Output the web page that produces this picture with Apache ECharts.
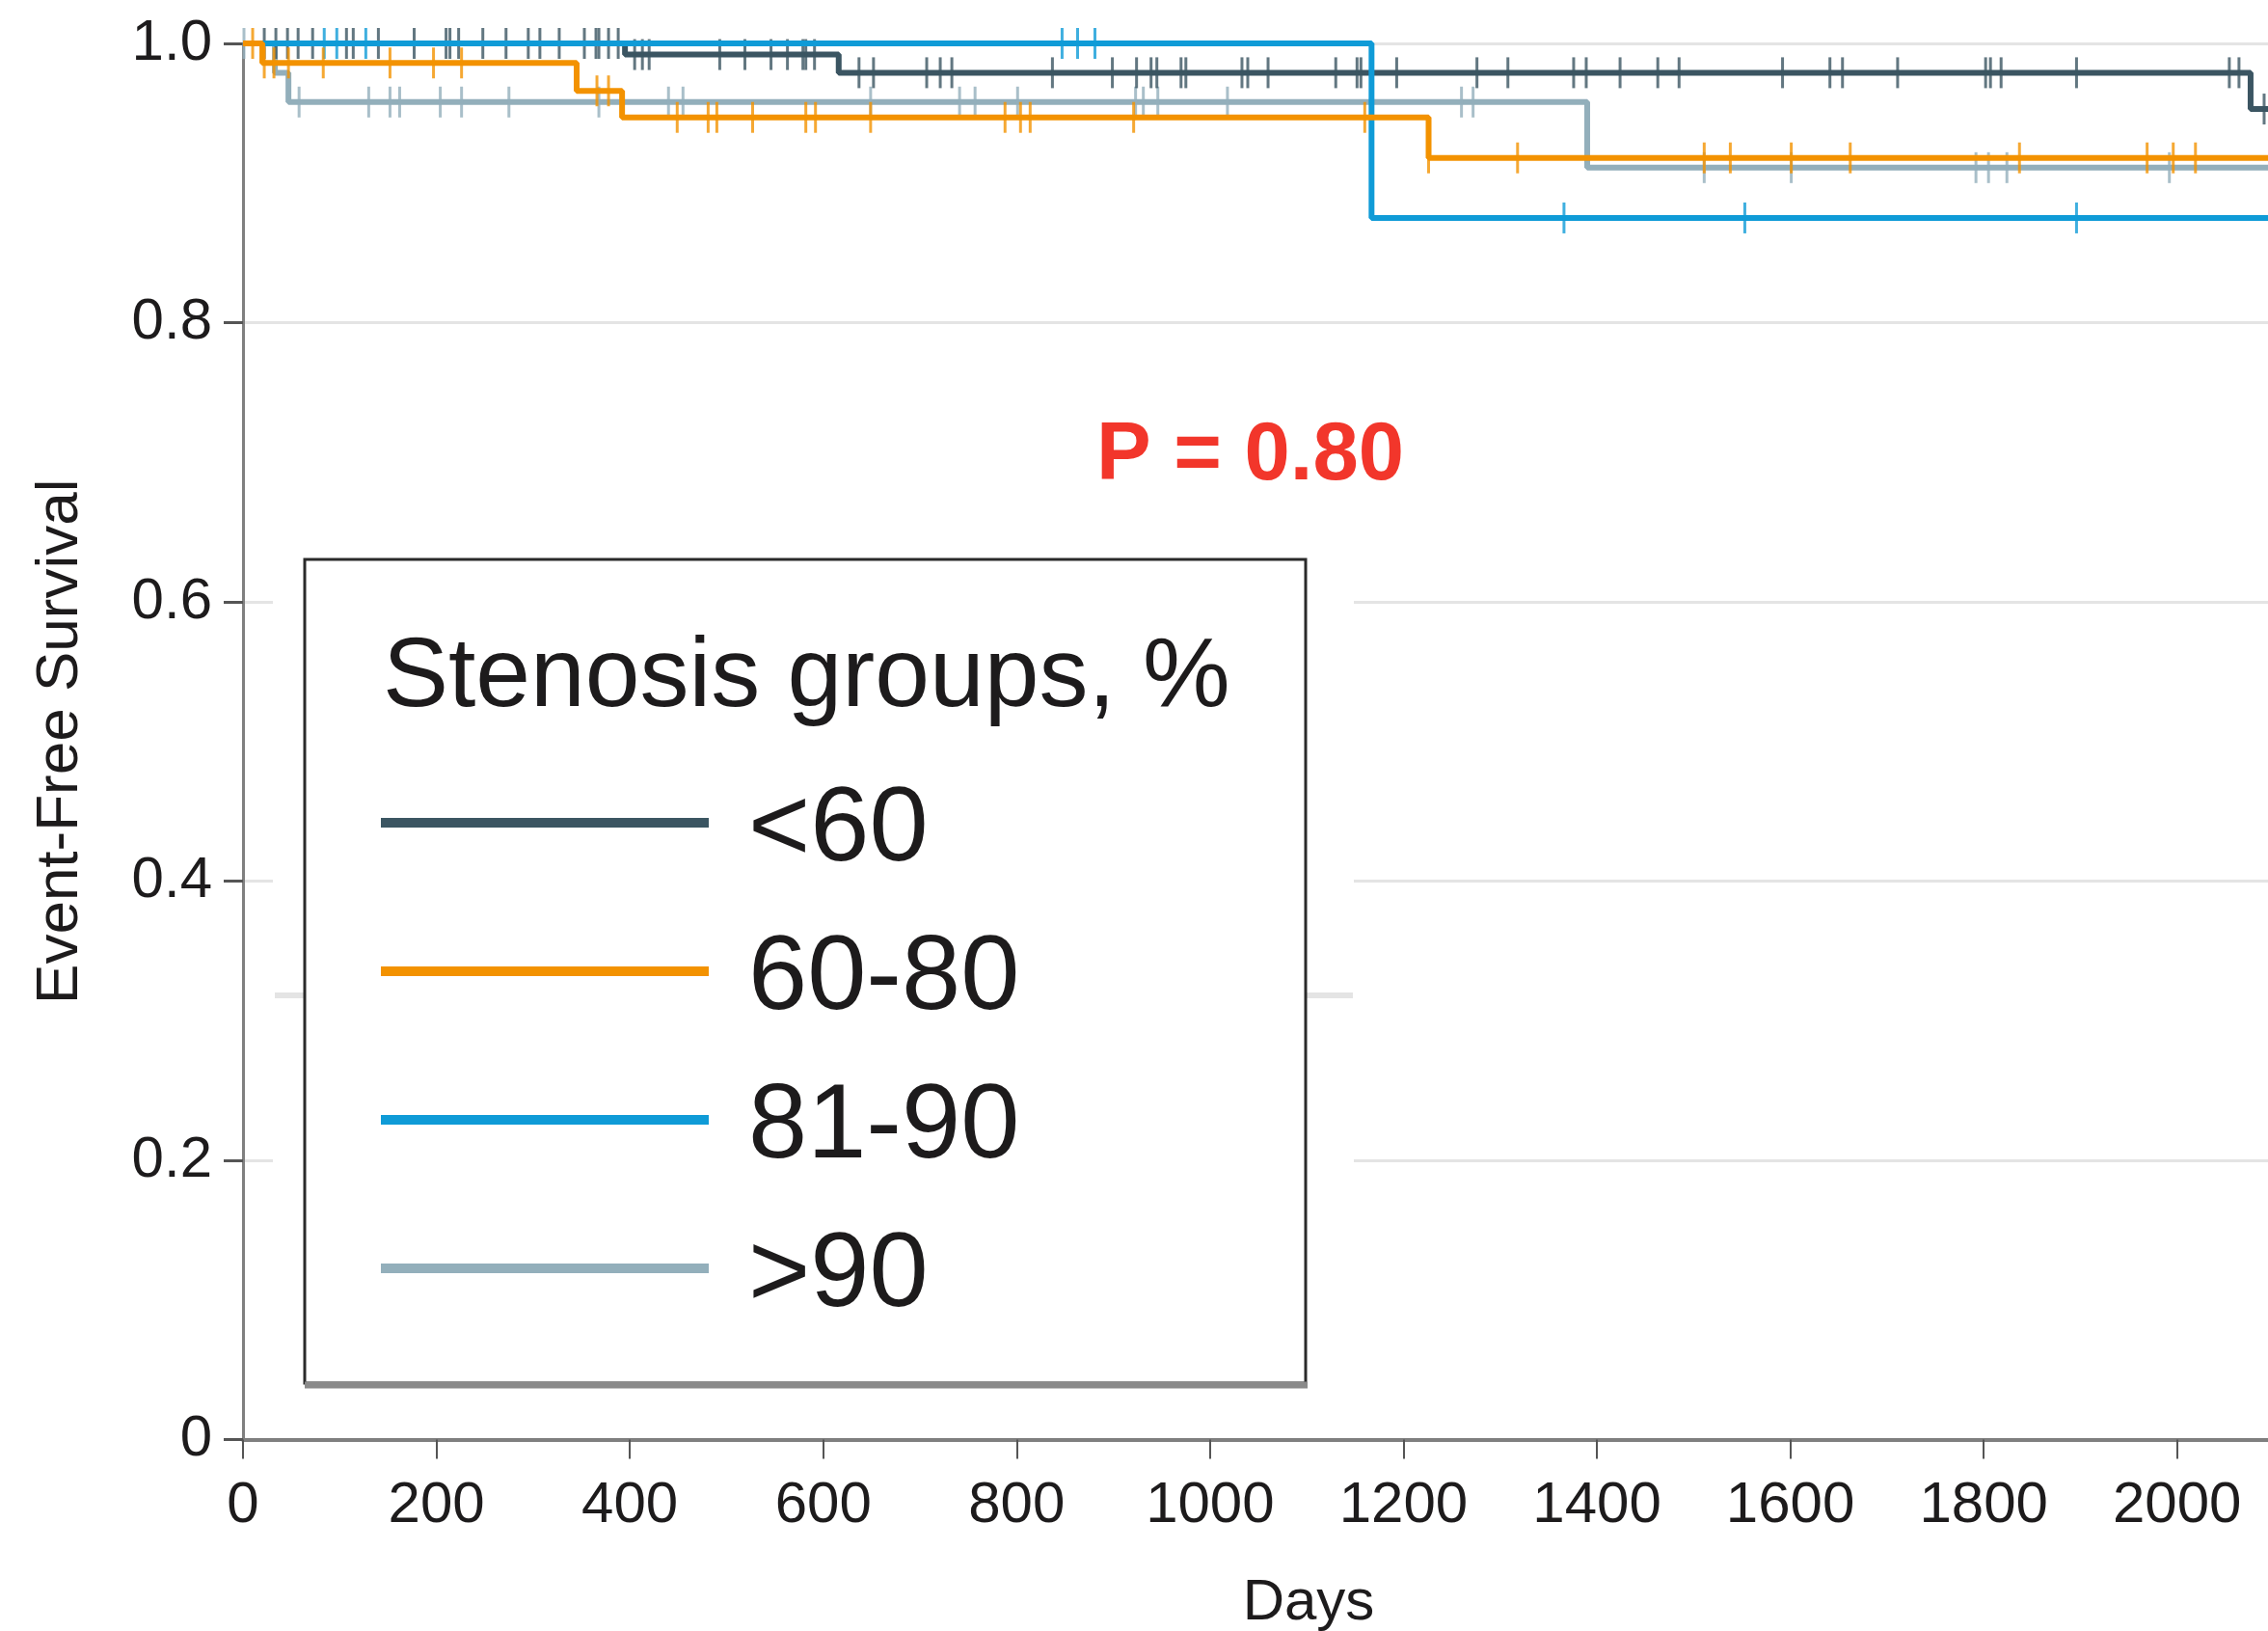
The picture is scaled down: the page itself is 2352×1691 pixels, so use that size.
<!DOCTYPE html>
<html>
<head>
<meta charset="utf-8">
<title>Event-Free Survival by Stenosis Group</title>
<script src="https://cdn.jsdelivr.net/npm/echarts@6/dist/echarts.min.js"></script>
<style>
html,body{margin:0;padding:0;background:#fff;}
#chart{width:2352px;height:1691px;}
</style>
</head>
<body>
<div id="chart"></div>
<script>
var groupNames = ['<60', '60-80', '81-90', '>90'];
var groupColors = ['#3b5562', '#f39200', '#0f9bd7', '#93afbb'];

// step points: day of each event and the survival right after it
var lt60Days = [0, 395, 616, 2076, 2120];
var lt60Surv = [1, 0.992, 0.979, 0.953, 0.953];
var mid1Days = [0, 20, 345, 392, 1226, 2120];
var mid1Surv = [1, 0.986, 0.966, 0.947, 0.918, 0.918];
var mid2Days = [0, 1167, 2120];
var mid2Surv = [1, 0.875, 0.875];
var gt90Days = [0, 33, 47, 1390, 2120];
var gt90Surv = [1, 0.979, 0.958, 0.911, 0.911];

// censored patients (days)
var lt60Censor = [22, 34, 46, 57, 72, 107, 114, 140, 177, 210, 214, 223, 248, 272, 295, 307, 327, 353, 365, 368, 378, 388,
	405, 413, 420, 493, 519, 546, 563, 579, 582, 591,
	637, 652, 707, 721, 733, 837, 899, 924, 939, 945, 970, 975, 1033, 1039, 1060, 1130, 1152, 1156, 1193, 1276, 1308,
	1376, 1389, 1424, 1463, 1485, 1592, 1641, 1654, 1711, 1802, 1807, 1818, 1896, 2054, 2064, 2090];
var mid1Censor = [10, 22, 32, 47, 83, 152, 197, 226, 366, 378,
	449, 481, 490, 527, 582, 592, 649, 788, 804, 814, 921, 1160,
	1226, 1318, 1511, 1538, 1601, 1662, 1837, 1969, 1996, 2019];
var mid2Censor = [84, 97, 127, 847, 863, 881, 1366, 1553, 1896];
var gt90Censor = [1, 58, 130, 152, 162, 204, 226, 275, 368, 440, 455, 649, 741, 757, 801, 923, 931, 946, 1018, 1260, 1272,
	1511, 1601, 1792, 1805, 1824, 1992];

var xMax = 2094;
var xStep = 200;
var yTickLabels = ['0', '0.2', '0.4', '0.6', '0.8', '1.0'];
var pText = 'P = 0.80';

var font = 'Liberation Sans, Arial, sans-serif';
var textColor = '#1d1b1c';

function survAt(days, surv, t){
	var s = surv[0];
	for(var i=0;i<days.length;i++){
		if(days[i] <= t){
			s = surv[i];
		}
	}
	return s;
}

function stepData(days, surv){
	var arr = [];
	for(var i=0;i<days.length;i++){
		arr.push([days[i], surv[i]]);
	}
	return arr;
}

function censorData(censor, days, surv){
	var arr = [];
	for(var i=0;i<censor.length;i++){
		arr.push([censor[i], survAt(days, surv, censor[i])]);
	}
	return arr;
}

var groups = [
	{days: lt60Days, surv: lt60Surv, censor: lt60Censor, z: 3},
	{days: mid1Days, surv: mid1Surv, censor: mid1Censor, z: 5},
	{days: mid2Days, surv: mid2Surv, censor: mid2Censor, z: 4},
	{days: gt90Days, surv: gt90Surv, censor: gt90Censor, z: 2}
];

var series = [];
for(var g=0;g<groups.length;g++){
	series.push({
		name: groupNames[g],
		type: 'line',
		step: 'end',
		showSymbol: false,
		silent: true,
		color: groupColors[g],
		lineStyle: {width: 6, color: groupColors[g]},
		z: groups[g].z,
		data: stepData(groups[g].days, groups[g].surv)
	});
}
for(var g=0;g<groups.length;g++){
	series.push({
		name: groupNames[g],
		type: 'scatter',
		symbol: 'rect',
		symbolSize: [3, 32],
		silent: true,
		itemStyle: {color: groupColors[g]},
		z: groups[g].z,
		data: censorData(groups[g].censor, groups[g].days, groups[g].surv)
	});
}

var chart = echarts.init(document.getElementById('chart'));
var option = {
	animation: false,
	backgroundColor: '#fff',
	grid: {left: 252, right: 0, top: 45, bottom: 198.5, containLabel: false, outerBoundsMode: 'none'},
	xAxis: {
		type: 'value',
		min: 0,
		max: xMax,
		interval: xStep,
		name: 'Days',
		nameLocation: 'middle',
		nameGap: 140,
		nameTextStyle: {fontSize: 60, color: textColor, fontFamily: font, padding: [0, 0, 0, 110]},
		axisLine: {show: true, lineStyle: {color: '#7f7f7f', width: 4}},
		axisTick: {show: true, length: 20, lineStyle: {color: '#555', width: 2}},
		axisLabel: {
			fontSize: 60, color: textColor, fontFamily: font, margin: 39,
			showMaxLabel: false,
			formatter: function(v){ return v % xStep === 0 ? String(v) : ''; }
		},
		splitLine: {show: false}
	},
	yAxis: {
		type: 'value',
		min: 0,
		max: 1,
		interval: 0.2,
		name: 'Event-Free Survival',
		nameLocation: 'middle',
		nameGap: 158,
		nameTextStyle: {fontSize: 62, color: textColor, fontFamily: font},
		axisLine: {show: true, lineStyle: {color: '#808080', width: 3}},
		axisTick: {show: true, length: 20, lineStyle: {color: '#555', width: 3}},
		axisLabel: {
			fontSize: 60, color: textColor, fontFamily: font, margin: 32,
			formatter: function(v){ return yTickLabels[Math.round(v * 5)]; }
		},
		splitLine: {show: true, lineStyle: {color: '#e4e4e4', width: 3}}
	},
	legend: {
		data: groupNames,
		orient: 'vertical',
		left: 395,
		top: 789,
		padding: 0,
		icon: 'rect',
		itemWidth: 340,
		itemHeight: 10,
		itemGap: 26,
		selectedMode: false,
		z: 10,
		formatter: function(name){ return '{t|' + name + '}'; },
		textStyle: {
			fontSize: 110, lineHeight: 120, color: textColor, fontFamily: font, padding: [0, 0, 0, 36],
			rich: {t: {fontSize: 110, lineHeight: 120, color: textColor, fontFamily: font, padding: [18, 0, 0, 0]}}
		}
	},
	graphic: [
		{type: 'rect', shape: {x: 283, y: 560, width: 1121, height: 880}, style: {fill: '#fff'}, z: 1, silent: true},
		{type: 'line', shape: {x1: 285, y1: 1032, x2: 1403, y2: 1032}, style: {stroke: '#e4e4e4', lineWidth: 6}, z: 2, silent: true},
		{type: 'rect', shape: {x: 316, y: 580, width: 1038, height: 854}, style: {fill: '#fff', stroke: '#2a2a2a', lineWidth: 3}, z: 3, silent: true},
		{type: 'line', shape: {x1: 316, y1: 1436, x2: 1356, y2: 1436}, style: {stroke: '#8a8a8a', lineWidth: 7}, z: 4, silent: true},
		{type: 'text', x: 397, y: 704, z: 10, silent: true,
			style: {text: 'Stenosis groups, %', fontSize: 102, fontFamily: font, fill: textColor, verticalAlign: 'middle'}},
		{type: 'text', x: 1137, y: 474, z: 10, silent: true,
			style: {text: pText, fontSize: 85, fontWeight: 'bold', fontFamily: font, fill: '#f2362b', verticalAlign: 'middle'}}
	],
	series: series
};
chart.setOption(option);
</script>
</body>
</html>
